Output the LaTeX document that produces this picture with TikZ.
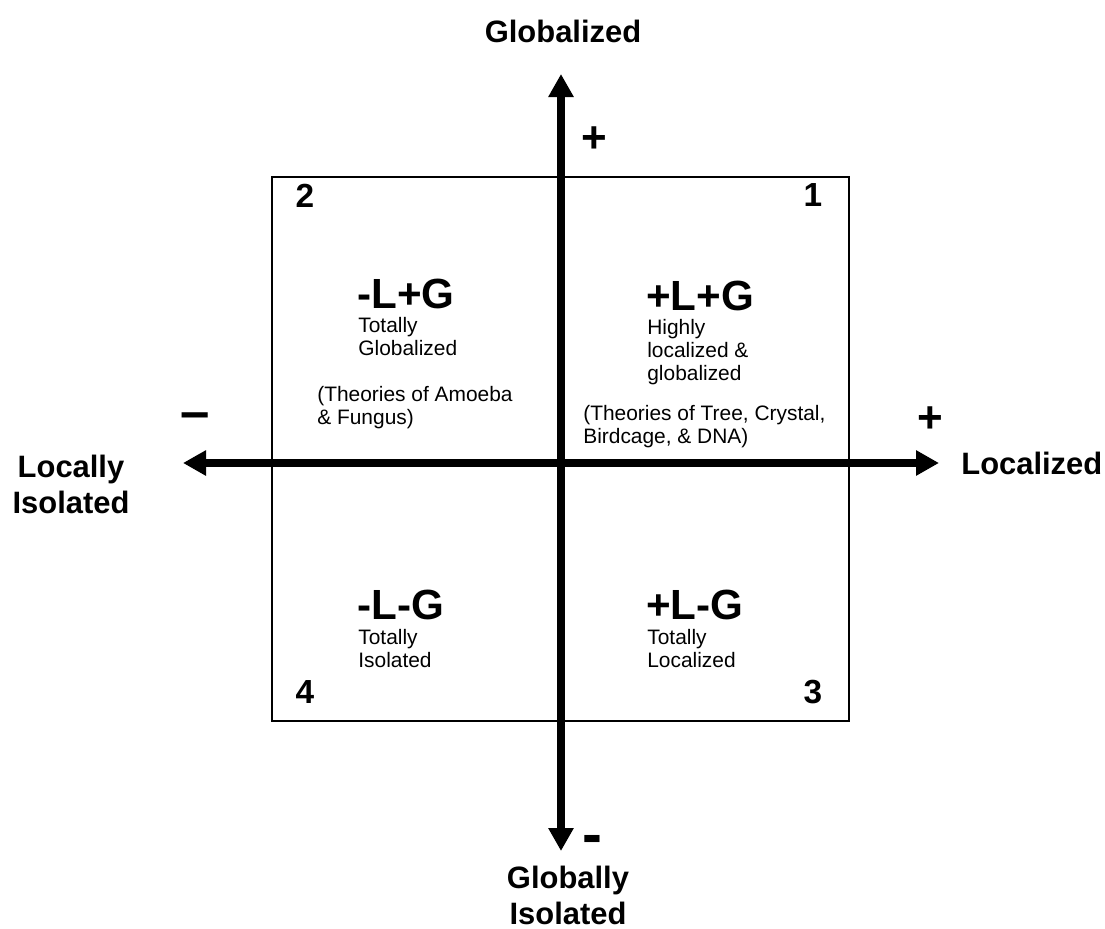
\documentclass[tikz,border=0pt]{standalone}
\usepackage{fontspec}
\setmainfont{Liberation Sans}
\usetikzlibrary{arrows.meta}

\begin{document}
\begin{tikzpicture}
  [x=0.2mm,y=-0.2mm,
   axis/.style={line width=4pt,{Triangle[width=4.8mm,length=4.6mm]}-{Triangle[width=4.8mm,length=4.6mm]}},
   axislabel/.style={font=\fontsize{17.6}{20.5}\selectfont\bfseries,align=center,inner sep=0},
   sign/.style={font=\fontsize{25}{25}\selectfont\bfseries,inner sep=0},
   quadnum/.style={font=\fontsize{19}{19}\selectfont\bfseries,inner sep=0},
   quadhead/.style={font=\fontsize{24}{24}\selectfont\bfseries,anchor=north west,inner sep=0},
   quadtext/.style={font=\fontsize{11.9}{13.1}\selectfont,align=left,anchor=north west,inner sep=0}]
\useasboundingbox (0,0) rectangle (1105,929);

% frame of the four quadrants
\draw[line width=1.2pt] (272,177) rectangle (849,721);

% axis ends
\coordinate (top) at (561,74);
\coordinate (bot) at (561,851);
\coordinate (lft) at (183,463);
\coordinate (rgt) at (939,463);

\path (lft) edge[axis] (rgt);
\path (bot) edge[axis] (top);

% axis labels
\node (glob)[axislabel] at (563,31) {Globalized};
\node (gisol)[axislabel] at (568,895) {Globally\\Isolated};
\node (lisol)[axislabel] at (71,484) {Locally\\Isolated};
\node (loc)[axislabel,anchor=west] at (961,463) {Localized};

\node (gplus)[sign] at (594,140) {+};
\node (gminus)[sign,font=\fontsize{34}{34}\selectfont\bfseries] at (592,845) {-};
\node (lplus)[sign] at (930,420) {+};
\node (lminus)[sign,font=\fontsize{30}{30}\selectfont\bfseries] at (195,421) {\textendash};

% quadrant numbers
\node (q1)[quadnum] at (813,195) {1};
\node (q2)[quadnum] at (305,196) {2};
\node (q3)[quadnum] at (813,692) {3};
\node (q4)[quadnum] at (305,692) {4};

% quadrant 2
\node (h2)[quadhead] at (357,279) {-L+G};
\node (t2)[quadtext] at (358,317) {Totally\\Globalized};
\node (p2)[quadtext] at (317,386) {(Theories of Amoeba\\\& Fungus)};

% quadrant 1
\node (h1)[quadhead] at (646,281) {+L+G};
\node (t1)[quadtext] at (647,319) {Highly\\localized \&\\globalized};
\node (p1)[quadtext] at (583,405) {(Theories of Tree, Crystal,\\Birdcage, \& DNA)};

% quadrant 4
\node (h4)[quadhead] at (357,590) {-L-G};
\node (t4)[quadtext] at (358,629) {Totally\\Isolated};

% quadrant 3
\node (h3)[quadhead] at (646,590) {+L-G};
\node (t3)[quadtext] at (647,629) {Totally\\Localized};
\end{tikzpicture}
\end{document}
